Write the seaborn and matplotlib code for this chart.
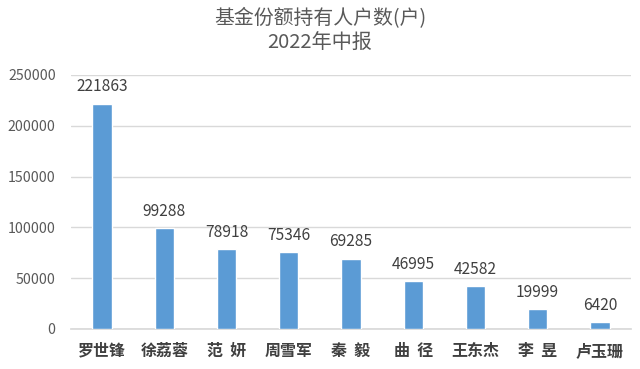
import seaborn as sns
import matplotlib.pyplot as plt
import pandas as pd

# chart data
managers = ["罗世锋", "徐荔蓉", "范  妍", "周雪军", "秦  毅", "曲  径", "王东杰", "李  昱", "卢玉珊"]
holders = [221863, 99288, 78918, 75346, 69285, 46995, 42582, 19999, 6420]
yticks = [0, 50000, 100000, 150000, 200000, 250000]

df = pd.DataFrame({"manager": managers, "holders": holders})

sns.set_theme(style="white")
plt.rcParams['font.family'] = ['Noto Sans CJK SC', 'DejaVu Sans']

fig = plt.figure(figsize=(6.4, 3.69), dpi=100)
ax = fig.add_axes([71 / 640, 1 - 329 / 369, 560 / 640, 254 / 369])

sns.barplot(data=df, x="manager", y="holders", color="#5B9BD5", saturation=1,
            width=0.31, ax=ax, zorder=3)

ax.set_ylim(0, 250000)
ax.set_yticks(yticks)
ax.set_yticklabels([str(v) for v in yticks], fontsize=10.2, color="#595959")
ax.yaxis.grid(True, color="#D9D9D9", linewidth=1, zorder=0)
ax.set_xlim(-0.5, len(managers) - 0.5)
ax.tick_params(axis="both", length=0)
ax.tick_params(axis="y", pad=11)
ax.set_xticks(range(len(managers)))
ax.set_xticklabels(managers, fontsize=11.5, color="#404040", fontweight="bold")
ax.tick_params(axis="x", pad=10)
ax.set_xlabel("")
ax.set_ylabel("")
for s in ["top", "right", "left"]:
    ax.spines[s].set_visible(False)
ax.spines["bottom"].set_color("#D9D9D9")

for i, v in enumerate(holders):
    ax.text(i, v + 8000, str(v), ha="center", va="bottom", fontsize=11.2, color="#404040")

fig.text(0.5, 1 - 19 / 369, "基金份额持有人户数(户)", ha="center", va="center",
         fontsize=14.3, color="#595959")
fig.text(0.5, 1 - 43 / 369, "2022年中报", ha="center", va="center",
         fontsize=14.5, color="#595959")

fig.savefig("out.png", dpi=100)
